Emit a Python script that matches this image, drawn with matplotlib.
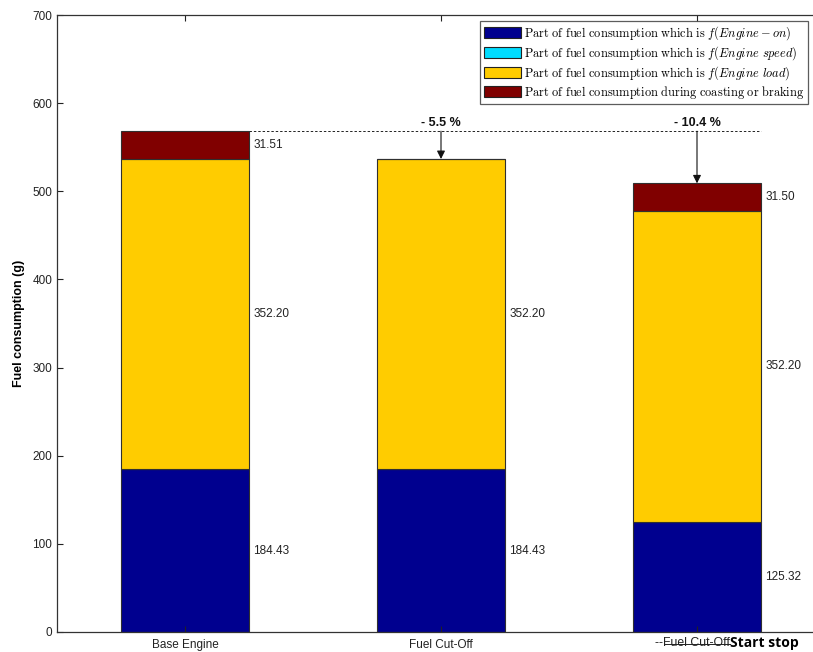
import numpy as np
import matplotlib
matplotlib.use('Agg')
import matplotlib.pyplot as plt

plt.rcParams['font.family'] = ['Liberation Sans', 'DejaVu Sans']
plt.rcParams['mathtext.fontset'] = 'cm'

# fuel consumption per configuration (g)
configs = ['Base Engine', 'Fuel Cut-Off', '--Fuel Cut-Off']
engine_on = [184.43, 184.43, 125.32]
engine_speed = [0.0, 0.0, 0.0]
engine_load = [352.20, 352.20, 352.20]
coasting = [31.51, 0.0, 31.50]

labels = [r'$\mathrm{Part\ of\ fuel\ consumption\ which\ is\ }f(Engine-on)$',
          r'$\mathrm{Part\ of\ fuel\ consumption\ which\ is\ }f(Engine\ speed)$',
          r'$\mathrm{Part\ of\ fuel\ consumption\ which\ is\ }f(Engine\ load)$',
          r'$\mathrm{Part\ of\ fuel\ consumption\ during\ coasting\ or\ braking}$']
colors = ['#00008f', '#00dcff', '#ffcc00', '#800000']

fig = plt.figure(figsize=(8.13, 6.52), dpi=100)
ax = fig.add_axes([57/813, 20/652, 768/813, 617/652])

x = np.arange(1, len(configs) + 1)
w = 0.5
bottom = np.zeros(len(x))
series = [engine_on, engine_speed, engine_load, coasting]
for vals, col, lab in zip(series, colors, labels):
    vals = np.array(vals)
    ax.bar(x, vals, w, bottom=bottom, color=col, edgecolor='#303030', lw=0.8, label=lab)
    # value labels next to the non-empty segments
    for xi, b, v in zip(x, bottom, vals):
        if v > 0:
            ax.text(xi + w/2 + 0.016, b + v/2, '%.2f' % v, fontsize=8.5,
                    color='#222222', ha='left', va='center')
    bottom = bottom + vals

totals = bottom
ref = totals[0]
ax.plot([x[0] + w/2, x[-1] + w/2], [ref, ref], ls=(0, (2.5, 2)), color='#222222', lw=0.7)
for xi, t in zip(x[1:], totals[1:]):
    pct = (t / ref - 1) * 100
    ax.annotate('', xy=(xi, t), xytext=(xi, ref),
                arrowprops=dict(arrowstyle='-|>', color='#111111', lw=0.8,
                                mutation_scale=12, shrinkA=0, shrinkB=0))
    ax.text(xi, ref + 3, '- %.1f %%' % abs(pct), ha='center', va='bottom',
            fontsize=9, fontweight='bold', color='#111111')

ax.set_xlim(0.5, 3.5)
ax.set_ylim(0, 700)
ax.set_yticks(np.arange(0, 701, 100))
ax.set_xticks(x)
ax.set_xticklabels(configs[:2] + [''])
ax.tick_params(axis='both', direction='in', labelsize=8.5, length=4, top=True,
               right=True, colors='#222222', labelcolor='#222222')
ax.tick_params(axis='x', pad=5)
for s in ax.spines.values():
    s.set_color('#333333')
    s.set_linewidth(0.9)
ax.set_ylabel('Fuel consumption (g)', fontsize=9, fontweight='bold', labelpad=5)

# third category label: old name struck through, new name in bold
lab3 = fig.text(730/813, 9/652, configs[2], ha='right', va='center',
                fontsize=8.8, color='#222222')
fig.text(730/813, 9/652, 'Start stop', ha='left', va='center',
         fontsize=10, fontweight='bold', family='Open Sans')
fig.canvas.draw()
bb = lab3.get_window_extent().transformed(fig.transFigure.inverted())
ym = bb.y0 + bb.height * 0.45
fig.add_artist(plt.Line2D([bb.x0 + 0.012, bb.x1], [ym, ym], color='#222222', lw=0.7))

leg = ax.legend(loc='upper left', bbox_to_anchor=(480/813, 1 - 21/652),
                bbox_transform=fig.transFigure, fontsize=8.9, frameon=True,
                fancybox=False, edgecolor='#333333', handlelength=3.0,
                handleheight=1.0, handletextpad=0.3, labelspacing=0.15,
                borderpad=0.3, borderaxespad=0)
leg.get_frame().set_linewidth(0.9)
for h in leg.legend_handles:
    h.set_edgecolor('#222222')

fig.savefig('out.png', dpi=100)
